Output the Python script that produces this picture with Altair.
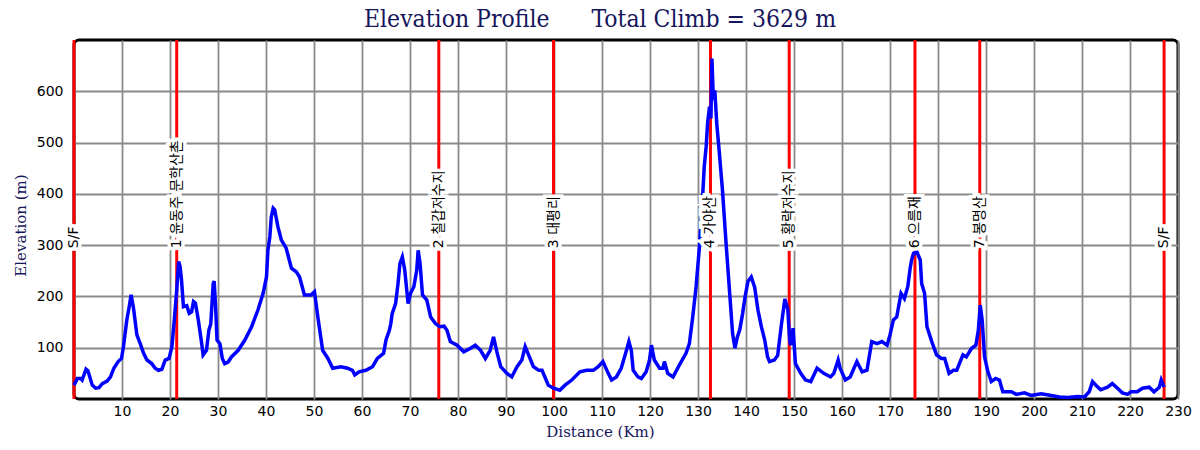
import altair as alt
import pandas as pd

# Elevation profile (distance km, elevation m)
km = [0.0, 0.7, 1.4, 1.7, 2.5, 2.9, 3.8, 4.5, 5.2, 5.9, 6.9, 7.6, 8.3, 9.2, 9.9,
      10.3, 11.0, 11.5, 11.9, 12.4, 13.1, 13.8, 14.5, 15.2, 16.2, 16.9, 17.6, 18.3,
      19.0, 19.8, 20.4, 20.9, 21.4, 21.8, 22.1, 22.4, 22.8, 23.5, 24.0, 24.5, 24.9,
      25.3, 25.9, 26.6, 26.9, 27.6, 28.1, 28.5, 29.0, 29.2, 29.5, 29.8, 30.4, 30.9,
      31.4, 32.1, 32.8, 34.2, 35.6, 37.0, 38.3, 39.4, 40.1, 40.4, 40.8, 41.1, 41.5,
      41.8, 42.5, 43.2, 44.2, 45.3, 46.3, 47.0, 48.0, 49.4, 50.1, 50.8, 51.8, 52.9,
      53.9, 55.6, 57.0, 58.0, 58.5, 59.4, 60.8, 62.2, 63.2, 64.5, 65.0, 65.7, 66.0,
      66.3, 67.0, 67.5, 67.9, 68.4, 68.9, 69.6, 70.1, 70.8, 71.4, 71.7, 72.1, 72.6,
      73.5, 74.3, 75.3, 76.2, 77.1, 77.7, 78.4, 79.8, 81.2, 82.6, 83.6, 84.7, 85.7,
      86.7, 87.4, 88.1, 88.9, 90.2, 91.2, 92.3, 93.3, 94.0, 94.7, 95.7, 96.8, 97.5,
      98.1, 98.8, 99.9, 101.2, 102.3, 103.7, 105.4, 106.8, 108.2, 109.2, 110.2,
      111.3, 112.0, 113.0, 114.0, 115.1, 115.6, 116.1, 116.5, 117.5, 118.2, 119.2,
      119.9, 120.3, 120.9, 122.0, 122.7, 123.0, 123.7, 124.8, 126.1, 127.5, 128.2,
      128.9, 129.6, 130.3, 131.0, 131.3, 131.7, 132.0, 132.4, 132.7, 132.9, 133.2,
      133.5, 133.9, 134.4, 135.1, 135.8, 136.5, 137.2, 137.7, 138.2, 138.7, 139.3,
      139.8, 140.4, 141.1, 141.8, 142.5, 143.2, 143.9, 144.5, 144.9, 145.9, 146.6,
      147.4, 148.1, 148.7, 149.1, 149.3, 149.8, 150.3, 151.4, 152.4, 153.5, 154.8,
      156.2, 157.6, 158.3, 159.2, 159.6, 160.7, 161.7, 163.1, 164.2, 165.2, 166.2,
      167.3, 168.3, 169.4, 170.0, 170.7, 171.4, 172.3, 173.0, 173.7, 174.2, 174.5,
      174.9, 175.6, 176.3, 176.6, 177.2, 177.7, 178.7, 179.7, 180.7, 181.4, 182.3,
      183.2, 183.9, 185.2, 185.9, 187.0, 187.9, 188.4, 188.8, 189.2, 189.7, 190.4,
      191.1, 192.0, 192.8, 193.5, 195.3, 196.3, 198.0, 199.4, 201.5, 203.6, 205.3,
      207.0, 209.1, 210.5, 211.5, 212.2, 212.9, 213.9, 215.3, 216.3, 217.4, 218.4,
      219.5, 220.2, 221.5, 222.6, 224.0, 225.0, 226.1, 226.5, 227.1]
elev = [27, 40, 40, 37, 58, 55, 27, 21, 22, 30, 35, 43, 60, 73, 79,
        102, 154, 180, 203, 177, 125, 108, 89, 76, 69, 60, 56, 58,
        76, 79, 102, 154, 212, 268, 258, 232, 180, 182, 167, 170, 190,
        187, 154, 108, 86, 95, 134, 147, 225, 230, 180, 115, 108, 79,
        69, 72, 82, 95, 115, 141, 173, 206, 238, 290, 316, 355, 372,
        369, 335, 310, 294, 255, 248, 238, 203, 203, 209, 160, 95, 79,
        60, 63, 60, 56, 47, 53, 56, 63, 79, 89, 115, 134, 147,
        167, 186, 225, 264, 277, 252, 186, 206, 219, 251, 290, 264, 203,
        193, 160, 147, 141, 142, 134, 112, 105, 92, 99, 105, 95, 79,
        95, 121, 92, 63, 50, 43, 63, 76, 102, 86, 63, 56, 56,
        43, 27, 21, 17, 27, 37, 53, 56, 56, 63, 73,
        50, 37, 43, 60, 95, 112, 95, 56, 43, 40, 53,
        76, 105, 76, 60, 60, 73, 50, 43, 66, 89, 108,
        160, 219, 297, 401, 453, 492, 538, 570, 547, 664, 583,
        602, 538, 485, 407, 310, 219, 128, 99, 121, 135, 167,
        199, 229, 238, 218, 173, 141, 115, 82, 73, 76, 85,
        147, 195, 175, 115, 105, 138, 69, 50, 37, 34, 60,
        50, 43, 50, 76, 60, 37, 43, 73, 53, 56, 112,
        108, 112, 105, 125, 154, 160, 206, 196, 219, 255, 271,
        284, 287, 271, 225, 206, 141, 112, 86, 79, 79, 50,
        56, 56, 86, 82, 99, 105, 134, 183, 154, 82, 53,
        34, 40, 37, 14, 14, 9, 12, 7, 10, 7, 4,
        3, 5, 4, 14, 34, 27, 18, 23, 30, 21, 12,
        9, 14, 14, 21, 23, 14, 23, 37, 23]

# Checkpoints
cp_km = [0.0, 21.4, 76.0, 99.9, 132.6, 149.0, 175.2, 188.7, 227.1]
cp_name = ["S/F", "1 윤동주 문학산촌", "2 칠갑저수지", "3 대평리", "4 가야산",
           "5 황락저수지", "6 으름재", "7 봉명산", "S/F"]

x_ticks = list(range(10, 231, 10))
y_ticks = [100, 200, 300, 400, 500, 600]

title_text = "Elevation Profile" + "\u00a0" * 6 + "Total Climb = 3629 m"

profile = pd.DataFrame({"km": km, "elev": elev})
cps = pd.DataFrame({"km": cp_km, "name": cp_name})
title_df = pd.DataFrame({"t": [title_text]})

NAVY = "#16165c"
SANS = "DejaVu Sans, Noto Sans CJK KR"
W, H = 1104, 359

xs = alt.Scale(domain=[0, 230], nice=False, zero=False)
ys = alt.Scale(domain=[0, 700], nice=False)

x_axis = alt.Axis(values=x_ticks, title="Distance (Km)", grid=True,
                  gridColor="#8a8a8a", gridWidth=1.8, ticks=False, domain=False,
                  labelFlush=False,
                  labelFont="DejaVu Sans", labelFontSize=14, labelColor="black",
                  labelPadding=5, titleFont="DejaVu Serif", titleFontSize=15,
                  titleColor=NAVY, titleFontWeight="normal", titleX=526, titleY=32,
                  titleBaseline="middle", titleAlign="center")
y_axis = alt.Axis(values=y_ticks, title="Elevation (m)", grid=True,
                  gridColor="#8a8a8a", gridWidth=1.8, ticks=False, domain=False,
                  labelFlush=False,
                  labelFont="DejaVu Sans", labelFontSize=14, labelColor="black",
                  labelPadding=11, titleFont="DejaVu Serif", titleFontSize=15,
                  titleColor=NAVY, titleFontWeight="normal", titleX=-54, titleY=185,
                  titleBaseline="middle", titleAlign="center", titleAngle=270)

X = alt.X("km:Q", scale=xs, axis=x_axis)

rules = alt.Chart(cps).mark_rule(color="#ff0000", strokeWidth=3).encode(x=X)

line = alt.Chart(profile).mark_line(color="#0000ff", strokeWidth=3.5).encode(
    x=X, y=alt.Y("elev:Q", scale=ys, axis=y_axis))

halo = alt.Chart(cps).transform_calculate(ly="294").mark_text(
    angle=270, align="left", baseline="middle", font=SANS, fontSize=14,
    stroke="white", strokeWidth=7, strokeJoin="miter", fill="white").encode(
    x=X, y=alt.Y("ly:Q", scale=ys, axis=y_axis), text="name:N")

labels = alt.Chart(cps).transform_calculate(ly="294").mark_text(
    angle=270, align="left", baseline="middle", font=SANS, fontSize=14,
    color="black").encode(
    x=X, y=alt.Y("ly:Q", scale=ys, axis=y_axis), text="name:N")

title = alt.Chart(title_df).mark_text(
    font="DejaVu Serif Condensed, DejaVu Serif", fontSize=24.5, color=NAVY,
    align="center", baseline="alphabetic").encode(
    x=alt.value(526), y=alt.value(-13), text="t:N")

chart = alt.layer(rules, line, halo, labels, title).properties(
    width=W, height=H,
    autosize=alt.AutoSizeParams(type="none"),
    padding={"left": 66, "top": 32, "right": 14, "bottom": 40},
).configure_view(stroke="black", strokeWidth=3, cornerRadius=5)

chart.save("out.html", embed_options={"renderer": "svg", "actions": False})
